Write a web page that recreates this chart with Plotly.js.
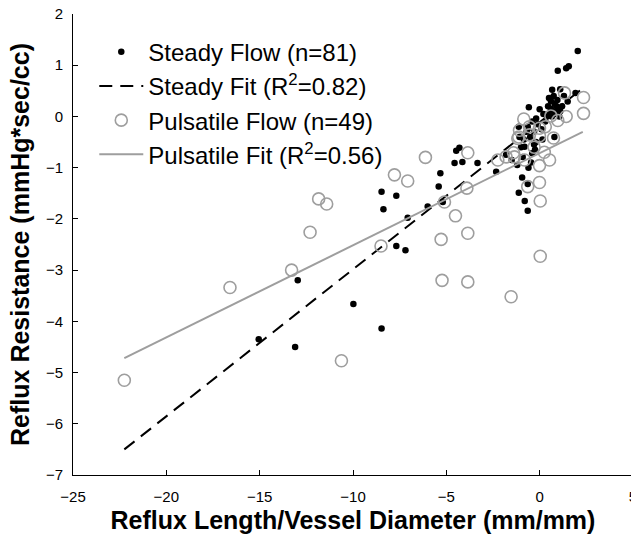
<!DOCTYPE html>
<html>
<head>
<meta charset="utf-8">
<script src="https://cdn.plot.ly/plotly-3.0.1.min.js"></script>
<style>
html, body { margin: 0; padding: 0; overflow: hidden; background: #fff; }
#chart { width: 640px; height: 544px; }
</style>
</head>
<body>
<div id="chart"></div>
<script>
// Steady flow (n=81)
var steadyX = [2.04, 0.97, 1.42, 1.56, 0.67, 1.10, 1.92, -0.58, 0.00, -0.19, 1.50, 0.50,
  0.60, 0.80, 0.90, 1.00, 0.70, 0.85, 1.10, 0.95, 0.75, 0.60, 1.20, 0.40, 0.55, 1.05,
  -1.12, -0.64, -1.08, -0.51, 0.79, -0.81, -0.40, -0.46, -1.80, -0.91,
  -2.33, -0.94, -0.64, -1.12, -0.80, -0.64,
  -4.56, -4.14, -3.33, -4.47, -4.30,
  -5.32, -5.41, -5.19, -6.00, -7.07, -7.68, -8.47, -8.37, -7.68, -7.19,
  -9.98, -8.47, -12.96, -13.10, -15.05,
  -0.30, -0.30, -0.20, -0.70, -0.85, 0.10, 0.30, -0.40, 0.20, -1.50, -1.20, -0.10, 0.45, 1.30, 0.65, -0.60, -0.25, 0.15, -1.00];
var steadyY = [1.28, 0.89, 0.94, 0.98, 0.52, 0.53, 0.46, 0.18, 0.14, -0.04, 0.29, 0.36,
  0.30, 0.25, 0.20, 0.15, 0.10, 0.05, 0.10, 0.32, 0.40, 0.15, 0.20, 0.00, 0.05, 0.00,
  -0.20, -0.20, -0.40, -0.40, -0.40, -0.59, -0.72, -0.90, -0.75, -0.79,
  -1.08, -1.19, -1.32, -1.49, -1.65, -1.84,
  -0.91, -0.89, -0.91, -0.67, -0.61,
  -1.11, -1.37, -1.67, -1.76, -1.98, -1.55, -1.47, -1.81, -2.53, -2.61,
  -3.66, -4.14, -3.20, -4.50, -4.35,
  -0.55, -0.30, -0.50, -0.30, -0.45, -0.25, -0.10, -0.10, 0.05, -0.85, -0.95, -0.15, 0.20, 0.40, 0.00, -1.00, -0.65, -0.45, -0.60];

// Pulsatile flow (n=49)
var pulsX = [-22.25, -16.59, -13.29, -10.62, -12.30, -11.84, -11.41, -8.50, -7.78, -7.07,
  -6.12, -5.10, -5.28, -5.23, -4.51, -3.85, -3.85, -1.53, -3.85, -3.90,
  -2.24, -1.80, -1.40, -1.12, -0.55, -0.01, 0.74, -0.81, -0.01, 0.53,
  -0.01, -0.64, 0.03, 0.03, 1.33, 2.35, 2.35, 1.42, 0.97, 0.60,
  -0.01, -0.55, -1.08, -1.17, -1.35, -0.30, 0.30, -0.85, 0.25];
var pulsY = [-5.15, -3.34, -3.00, -4.77, -2.26, -1.61, -1.71, -2.53, -1.14, -1.26,
  -0.80, -1.67, -2.40, -3.20, -1.94, -2.28, -3.23, -3.52, -0.71, -1.40,
  -0.85, -0.79, -0.71, -0.40, -0.36, -0.38, -0.42, -0.85, -0.96, -0.85,
  -1.29, -1.37, -1.65, -2.73, 0.46, 0.37, 0.06, 0.00, -0.08, 0.01,
  -0.23, -0.20, -0.27, -0.43, -0.79, -0.60, -0.20, -0.05, -0.70];

// Fit lines (end points)
var fitX = [-22.25, 2.31];
var steadyFitY = [-6.50, 0.55];
var pulsFitY = [-4.72, -0.30];

var labels = ['Steady Flow (n=81)', 'Steady Fit (R<sup>2</sup>=0.82)',
              'Pulsatile Flow (n=49)', 'Pulsatile Fit (R<sup>2</sup>=0.56)'];

var FONT = 'Liberation Sans, Arial, Helvetica, sans-serif';
var GRAY = '#9e9e9e';

var traces = [
  { x: steadyX, y: steadyY, mode: 'markers', type: 'scatter', name: labels[0],
    marker: { color: '#000', size: 6.5, line: { width: 0 } } },
  { x: fitX, y: steadyFitY, mode: 'lines', type: 'scatter', name: labels[1],
    line: { color: '#000', width: 2, dash: '13px,8px' } },
  { x: pulsX, y: pulsY, mode: 'markers', type: 'scatter', name: labels[2],
    marker: { symbol: 'circle-open', color: GRAY, size: 12, line: { width: 1.6, color: GRAY } } },
  { x: fitX, y: pulsFitY, mode: 'lines', type: 'scatter', name: labels[3],
    line: { color: GRAY, width: 2 } }
];

var layout = {
  width: 640, height: 544,
  margin: { l: 73, r: 7, t: 14, b: 69 },
  paper_bgcolor: '#fff', plot_bgcolor: '#fff',
  font: { family: FONT, color: '#000', size: 15 },
  showlegend: true,
  legend: {
    x: 0.038, y: 0.966, xanchor: 'left', yanchor: 'top',
    bgcolor: 'rgba(0,0,0,0)', borderwidth: 0,
    font: { family: FONT, size: 24, color: '#000' },
    itemwidth: 44
  },
  xaxis: {
    range: [-25, 5], tickmode: 'linear', tick0: -25, dtick: 5,
    showgrid: false, zeroline: false, showline: true, linecolor: '#000', linewidth: 1,
    ticks: 'inside', ticklen: 5, tickcolor: '#000', tickwidth: 1,
    tickfont: { family: FONT, size: 15, color: '#000' },
    ticklabelstandoff: 8,
    title: { text: '<b>Reflux Length/Vessel Diameter (mm/mm)</b>', font: { family: FONT, size: 25, color: '#000' }, standoff: 7 }
  },
  yaxis: {
    range: [-7, 2], tickmode: 'linear', tick0: -7, dtick: 1,
    showgrid: false, zeroline: false, showline: true, linecolor: '#000', linewidth: 1,
    ticks: 'inside', ticklen: 5, tickcolor: '#000', tickwidth: 1,
    tickfont: { family: FONT, size: 15, color: '#000' },
    ticklabelstandoff: 6,
    title: { text: '<b>Reflux Resistance (mmHg*sec/cc)</b>', font: { family: FONT, size: 25, color: '#000' }, standoff: 9 }
  }
};

Plotly.newPlot('chart', traces, layout, { displayModeBar: false, staticPlot: true });
</script>
</body>
</html>
